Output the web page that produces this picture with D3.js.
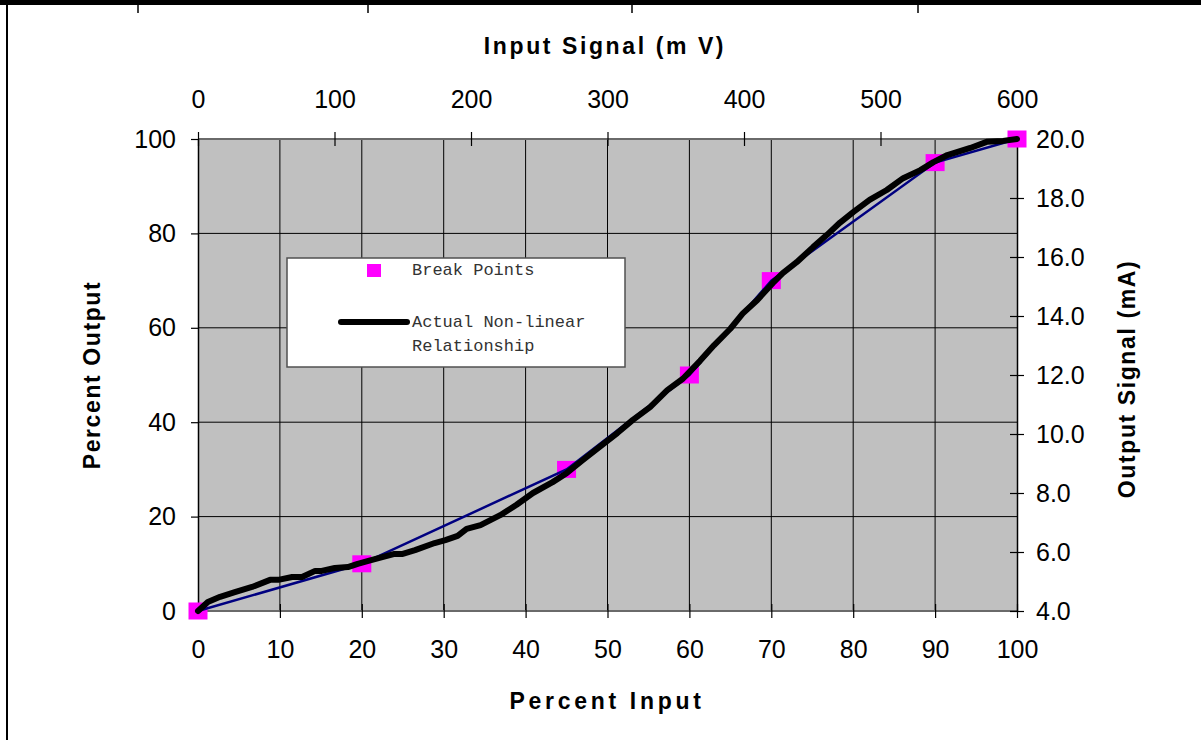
<!DOCTYPE html>
<html><head><meta charset="utf-8">
<script src="https://cdn.jsdelivr.net/npm/d3@7"></script>
<style>
html,body{margin:0;padding:0;background:#fff;}
svg{display:block;font-family:"Liberation Sans",Arial,sans-serif;}
</style></head>
<body><svg id="c" width="1201" height="740"></svg>
<script>
// ---- data ----
const breakX = [0, 20, 45, 60, 70, 90, 100];
const breakY = [0, 10, 30, 50, 70, 95, 100];
const actualX = [0,1.2,2.7,4.5,6.6,8.8,9.8,11.5,12.7,14.3,15.1,16.7,18.3,19.5,20.8,22.5,24.0,25.0,26.5,28.9,30.2,31.7,32.8,34.5,36.9,38.9,40.9,43.3,45.0,47.0,49.0,51.2,53.1,55.2,57.3,59.2,61.3,63.0,65.0,66.5,68.3,70.2,71.4,73.1,75.1,76.8,78.4,80.0,82.0,84.1,86.1,88.2,89.8,91.5,94.3,96.3,98.3,100];
const actualY = [0,1.9,3.0,4.0,5.1,6.6,6.6,7.2,7.2,8.5,8.5,9.1,9.3,10.0,10.6,11.4,12.1,12.1,12.9,14.4,15.0,15.9,17.4,18.2,20.3,22.5,25.0,27.3,29.2,32.0,34.7,37.7,40.5,43.2,46.8,49.2,53.0,56.3,59.8,63.0,65.9,69.5,71.6,73.9,77.1,79.7,82.3,84.5,87.1,89.2,91.7,93.4,95.1,96.6,98.1,99.4,99.6,100];
const bottomTicks = [0,10,20,30,40,50,60,70,80,90,100];
const leftTicks = [0,20,40,60,80,100];
const topTicks = [0,100,200,300,400,500,600];
const rightTicks = [4,6,8,10,12,14,16,18,20];
const legendLabels = ["Break Points", "Actual Non-linear", "Relationship"];

const svg = d3.select("#c");
const L=198, R=1017, T=139, B=611;
const x = d3.scaleLinear().domain([0,100]).range([L,R]);
const y = d3.scaleLinear().domain([0,100]).range([B,T]);
const xTop = d3.scaleLinear().domain([0,600]).range([L,R]);
const yRight = d3.scaleLinear().domain([4,20]).range([B,T]);

// page frame
svg.append("rect").attr("x",0).attr("y",0).attr("width",1201).attr("height",5).attr("fill","#000");
[138,368,632,918].forEach(v=>svg.append("line").attr("x1",v).attr("x2",v).attr("y1",0).attr("y2",13).attr("stroke","#000").attr("stroke-width",1.5));
svg.append("line").attr("x1",7).attr("x2",7).attr("y1",0).attr("y2",740).attr("stroke","#000").attr("stroke-width",2);

// plot background
svg.append("rect").attr("x",L).attr("y",T).attr("width",R-L).attr("height",B-T).attr("fill","#c0c0c0");

// gridlines
svg.append("g").selectAll("line").data(bottomTicks.filter(d=>d>0&&d<100)).join("line")
  .attr("x1",d=>x(d)).attr("x2",d=>x(d)).attr("y1",T).attr("y2",B).attr("stroke","#000").attr("stroke-width",1);
svg.append("g").selectAll("line").data(leftTicks.filter(d=>d>0&&d<100)).join("line")
  .attr("x1",L).attr("x2",R).attr("y1",d=>y(d)).attr("y2",d=>y(d)).attr("stroke","#000").attr("stroke-width",1);

// plot border
svg.append("line").attr("x1",L).attr("x2",R).attr("y1",T).attr("y2",T).attr("stroke","#6a6a6a").attr("stroke-width",2);
svg.append("line").attr("x1",L).attr("x2",R).attr("y1",B).attr("y2",B).attr("stroke","#6a6a6a").attr("stroke-width",2);

// axes
const tick = 7;
function styleAxis(g){ g.select(".domain").attr("stroke","#000").attr("stroke-width",1.5);
  g.selectAll(".tick line").attr("stroke","#000").attr("stroke-width",1.2);
  g.selectAll(".tick text").attr("font-family","'Liberation Sans',Arial,sans-serif").attr("font-size",25).attr("fill","#000"); }

const gb = svg.append("g").attr("transform",`translate(0,${B})`)
  .call(d3.axisBottom(x).tickValues(bottomTicks).tickSize(tick).tickSizeOuter(0).tickPadding(22));
styleAxis(gb); gb.select(".domain").remove();
gb.selectAll(".tick line").attr("y1",-tick);

const gl = svg.append("g").attr("transform",`translate(${L},0)`)
  .call(d3.axisLeft(y).tickValues(leftTicks).tickSize(tick).tickSizeOuter(0).tickPadding(15));
styleAxis(gl);

const gt = svg.append("g").attr("transform",`translate(0,${T})`)
  .call(d3.axisTop(xTop).tickValues(topTicks).tickSize(tick).tickSizeOuter(0).tickPadding(24));
styleAxis(gt); gt.select(".domain").remove();
gt.selectAll(".tick line").attr("y1",tick);

const gr = svg.append("g").attr("transform",`translate(${R},0)`)
  .call(d3.axisRight(yRight).tickValues(rightTicks).tickSize(tick).tickSizeOuter(0).tickPadding(12).tickFormat(d3.format(".1f")));
styleAxis(gr);
gr.selectAll(".tick line").attr("x1",-tick);

// break point squares
const pts = breakX.map((d,i)=>[d,breakY[i]]);
svg.append("g").selectAll("rect").data(pts).join("rect")
  .attr("x",d=>x(d[0])-9.5).attr("y",d=>y(d[1])-8.5).attr("width",19).attr("height",17).attr("fill","#ff00ff");

// blue piecewise line
svg.append("path").datum(pts).attr("fill","none").attr("stroke","#000080").attr("stroke-width",2.5)
  .attr("d", d3.line().x(d=>x(d[0])).y(d=>y(d[1])));

// actual curve
const act = actualX.map((d,i)=>[d,actualY[i]]);
svg.append("path").datum(act).attr("fill","none").attr("stroke","#000").attr("stroke-width",6)
  .attr("stroke-linejoin","round").attr("stroke-linecap","round")
  .attr("d", d3.line().x(d=>x(d[0])).y(d=>y(d[1])));

// titles
svg.append("text").attr("x",605).attr("y",54).attr("text-anchor","middle").attr("font-weight","bold")
  .attr("font-size",23).attr("letter-spacing",2.6).text("Input Signal (m V)");
svg.append("text").attr("x",607).attr("y",709).attr("text-anchor","middle").attr("font-weight","bold")
  .attr("font-size",23).attr("letter-spacing",3.7).text("Percent Input");
svg.append("text").attr("transform","translate(100,375) rotate(-90)").attr("text-anchor","middle").attr("font-weight","bold")
  .attr("font-size",23).attr("letter-spacing",1.6).text("Percent Output");
svg.append("text").attr("transform","translate(1135,379) rotate(-90)").attr("text-anchor","middle").attr("font-weight","bold")
  .attr("font-size",23).attr("letter-spacing",1.6).text("Output Signal (mA)");

// legend
const lg = svg.append("g");
lg.append("rect").attr("x",287).attr("y",258).attr("width",338).attr("height",109).attr("fill","#fff")
  .attr("stroke","#505050").attr("stroke-width",1.5);
lg.append("rect").attr("x",367).attr("y",264).attr("width",14).attr("height",13).attr("fill","#ff00ff");
lg.append("line").attr("x1",341).attr("x2",407).attr("y1",322).attr("y2",322).attr("stroke","#000").attr("stroke-width",6).attr("stroke-linecap","round");
const lt = {"font-family":"'Liberation Mono','Courier New',monospace","font-size":17,"fill":"#333"};
[[275,0],[327,1],[351,2]].forEach(([yy,i])=>{
  const t = lg.append("text").attr("x",412).attr("y",yy).text(legendLabels[i]);
  Object.entries(lt).forEach(([k,v])=>t.attr(k,v));
});
</script></body></html>
